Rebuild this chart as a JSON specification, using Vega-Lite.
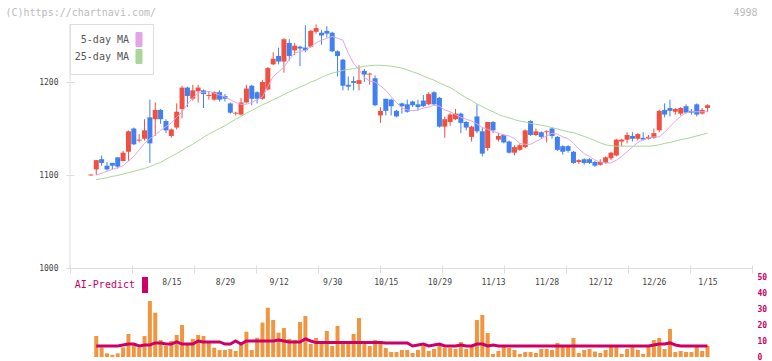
{
"$schema":"https://vega.github.io/schema/vega-lite/v6.json",
"width":682,"height":333,
"autosize":{"type":"none"},
"padding":{"left":70,"top":24,"right":20,"bottom":4},
"background":"#ffffff",
"config":{"view":{"stroke":null},"axis":{"grid":false},"scale":{"continuousPadding":0}},
"data":{"values":[
{"i":0,"o":1099.5,"h":1100.5,"l":1099.5,"c":1100.5,"m5":null,"m25":null,"v":null,"a":null},
{"i":1,"o":1106,"h":1116,"l":1100,"c":1116,"m5":1100,"m25":1095,"v":13.1,"a":6.9},
{"i":2,"o":1117,"h":1121,"l":1110,"c":1113,"m5":1102,"m25":1096,"v":6,"a":6.9},
{"i":3,"o":1110,"h":1114,"l":1105,"c":1106,"m5":1104,"m25":1097,"v":2.3,"a":6.9},
{"i":4,"o":1113,"h":1113,"l":1106,"c":1110,"m5":1106,"m25":1098.5,"v":1.3,"a":6.9},
{"i":5,"o":1119,"h":1119,"l":1107,"c":1109,"m5":1108,"m25":1099.5,"v":2.3,"a":6.9},
{"i":6,"o":1115,"h":1126,"l":1115,"c":1124,"m5":1110,"m25":1101,"v":6,"a":7.5},
{"i":7,"o":1125,"h":1148,"l":1115,"c":1147,"m5":1115,"m25":1102.5,"v":14.4,"a":8.1},
{"i":8,"o":1150,"h":1151,"l":1132,"c":1133,"m5":1120,"m25":1104,"v":8.5,"a":8.1},
{"i":9,"o":1137,"h":1144,"l":1135,"c":1138,"m5":1127,"m25":1105.5,"v":6,"a":6.9},
{"i":10,"o":1139,"h":1160,"l":1137,"c":1148,"m5":1134,"m25":1107,"v":13.1,"a":7.5},
{"i":11,"o":1162,"h":1181,"l":1113,"c":1134,"m5":1139,"m25":1109,"v":35,"a":7.5},
{"i":12,"o":1160,"h":1178,"l":1142,"c":1170,"m5":1143,"m25":1111.5,"v":27.7,"a":8.8},
{"i":13,"o":1170,"h":1171,"l":1155,"c":1160,"m5":1148,"m25":1113.5,"v":10.6,"a":8.8},
{"i":14,"o":1158,"h":1160,"l":1145,"c":1148,"m5":1152,"m25":1117,"v":6.9,"a":8.1},
{"i":15,"o":1142,"h":1150,"l":1140,"c":1149,"m5":1156,"m25":1120,"v":10,"a":8.1},
{"i":16,"o":1151,"h":1177,"l":1149,"c":1168,"m5":1162,"m25":1123,"v":13.8,"a":9.4},
{"i":17,"o":1171,"h":1196,"l":1161,"c":1194,"m5":1168,"m25":1126.5,"v":20,"a":8.1},
{"i":18,"o":1194,"h":1195,"l":1173,"c":1185,"m5":1176,"m25":1130,"v":7.5,"a":8.1},
{"i":19,"o":1182,"h":1197,"l":1180,"c":1191,"m5":1183,"m25":1133,"v":11.3,"a":8.1},
{"i":20,"o":1190,"h":1197,"l":1178,"c":1194,"m5":1188,"m25":1137,"v":13.8,"a":10},
{"i":21,"o":1191,"h":1192,"l":1172,"c":1187,"m5":1189,"m25":1140.5,"v":13.1,"a":9.4},
{"i":22,"o":1185,"h":1190,"l":1181,"c":1186,"m5":1190,"m25":1144,"v":9,"a":9.4},
{"i":23,"o":1181,"h":1190,"l":1180,"c":1189,"m5":1188,"m25":1147,"v":5.8,"a":9.4},
{"i":24,"o":1189,"h":1191,"l":1179,"c":1181,"m5":1186,"m25":1150,"v":4.4,"a":9.4},
{"i":25,"o":1185,"h":1187,"l":1179,"c":1182,"m5":1184,"m25":1153,"v":4.4,"a":8.1},
{"i":26,"o":1177,"h":1178,"l":1166,"c":1167,"m5":1181,"m25":1156.5,"v":5,"a":8.1},
{"i":27,"o":1166,"h":1168,"l":1164,"c":1167,"m5":1178,"m25":1160,"v":3.8,"a":10},
{"i":28,"o":1165,"h":1183,"l":1164,"c":1178,"m5":1176,"m25":1163,"v":8.1,"a":8.1},
{"i":29,"o":1178,"h":1197,"l":1177,"c":1193,"m5":1176,"m25":1166.5,"v":15.8,"a":10},
{"i":30,"o":1196,"h":1197,"l":1175,"c":1182,"m5":1178,"m25":1169.5,"v":4.4,"a":10},
{"i":31,"o":1189,"h":1190,"l":1177,"c":1182,"m5":1181,"m25":1172.5,"v":12,"a":10},
{"i":32,"o":1182,"h":1202,"l":1181,"c":1200,"m5":1184,"m25":1175.5,"v":21.5,"a":10},
{"i":33,"o":1192,"h":1216,"l":1191,"c":1215,"m5":1195,"m25":1178,"v":30.8,"a":10},
{"i":34,"o":1219,"h":1232,"l":1218,"c":1225,"m5":1206,"m25":1181,"v":23.1,"a":10},
{"i":35,"o":1228,"h":1237,"l":1219,"c":1222,"m5":1211,"m25":1183.5,"v":15.2,"a":10.6},
{"i":36,"o":1222,"h":1247,"l":1210,"c":1246,"m5":1216,"m25":1186.5,"v":18.1,"a":10},
{"i":37,"o":1242,"h":1246,"l":1223,"c":1228,"m5":1224,"m25":1189.5,"v":11.3,"a":9.4},
{"i":38,"o":1234,"h":1242,"l":1229,"c":1239,"m5":1231,"m25":1192,"v":10.6,"a":9.4},
{"i":39,"o":1238,"h":1239,"l":1217,"c":1236,"m5":1233,"m25":1194.5,"v":21.9,"a":9.4},
{"i":40,"o":1237,"h":1261,"l":1232,"c":1234,"m5":1234,"m25":1197,"v":25.6,"a":11.3},
{"i":41,"o":1238,"h":1256,"l":1237,"c":1255,"m5":1238,"m25":1200,"v":8.1,"a":10},
{"i":42,"o":1254,"h":1262,"l":1252,"c":1258,"m5":1242,"m25":1202,"v":11.9,"a":9},
{"i":43,"o":1253,"h":1256,"l":1240,"c":1250,"m5":1245,"m25":1205,"v":8.1,"a":9},
{"i":44,"o":1255,"h":1260,"l":1248,"c":1252,"m5":1247,"m25":1207.5,"v":16.3,"a":9},
{"i":45,"o":1253,"h":1254,"l":1232,"c":1233,"m5":1249,"m25":1209.5,"v":6.9,"a":9},
{"i":46,"o":1233,"h":1234,"l":1206,"c":1228,"m5":1247,"m25":1211,"v":19.4,"a":9},
{"i":47,"o":1224,"h":1225,"l":1191,"c":1196,"m5":1245,"m25":1212.5,"v":8.1,"a":9},
{"i":48,"o":1197,"h":1206,"l":1191,"c":1195,"m5":1231,"m25":1213.5,"v":8.1,"a":9},
{"i":49,"o":1201,"h":1206,"l":1191,"c":1199,"m5":1220,"m25":1214.5,"v":14.4,"a":9},
{"i":50,"o":1198,"h":1218,"l":1191,"c":1202,"m5":1213,"m25":1215.5,"v":24.4,"a":9},
{"i":51,"o":1212,"h":1214,"l":1200,"c":1208,"m5":1205,"m25":1217,"v":8.1,"a":9},
{"i":52,"o":1208,"h":1210,"l":1197,"c":1209,"m5":1201,"m25":1217.5,"v":6.9,"a":9},
{"i":53,"o":1204,"h":1207,"l":1174,"c":1175,"m5":1200,"m25":1218,"v":10.6,"a":9},
{"i":54,"o":1164,"h":1173,"l":1156,"c":1169,"m5":1196,"m25":1218,"v":10,"a":9},
{"i":55,"o":1182,"h":1182,"l":1164,"c":1169,"m5":1191,"m25":1217.5,"v":5.6,"a":8.8},
{"i":56,"o":1181,"h":1182,"l":1164,"c":1174,"m5":1184,"m25":1217,"v":3.1,"a":8.8},
{"i":57,"o":1169,"h":1170,"l":1162,"c":1163,"m5":1178,"m25":1216,"v":3.1,"a":8.8},
{"i":58,"o":1177,"h":1178,"l":1166,"c":1174,"m5":1172,"m25":1215,"v":4.4,"a":8.8},
{"i":59,"o":1176,"h":1181,"l":1167,"c":1168,"m5":1170,"m25":1213,"v":4.4,"a":8.8},
{"i":60,"o":1179,"h":1180,"l":1173,"c":1175,"m5":1169,"m25":1211,"v":2.5,"a":6.9},
{"i":61,"o":1176,"h":1181,"l":1169,"c":1173,"m5":1170,"m25":1209,"v":4.4,"a":7.5},
{"i":62,"o":1180,"h":1186,"l":1173,"c":1174,"m5":1172,"m25":1206.5,"v":6.9,"a":8.1},
{"i":63,"o":1176,"h":1189,"l":1175,"c":1187,"m5":1173,"m25":1204,"v":3.8,"a":6.9},
{"i":64,"o":1189,"h":1190,"l":1175,"c":1176,"m5":1175,"m25":1202,"v":5,"a":7.5},
{"i":65,"o":1183,"h":1184,"l":1151,"c":1152,"m5":1174,"m25":1199,"v":8.1,"a":8.1},
{"i":66,"o":1152,"h":1163,"l":1140,"c":1160,"m5":1170,"m25":1196.5,"v":5.6,"a":6.9},
{"i":67,"o":1157,"h":1167,"l":1153,"c":1165,"m5":1168,"m25":1194,"v":5.6,"a":6.9},
{"i":68,"o":1160,"h":1171,"l":1159,"c":1166,"m5":1165,"m25":1190.5,"v":5,"a":6.9},
{"i":69,"o":1166,"h":1167,"l":1145,"c":1156,"m5":1162,"m25":1186.5,"v":9.4,"a":7.5},
{"i":70,"o":1157,"h":1158,"l":1148,"c":1151,"m5":1160,"m25":1183,"v":5,"a":6.9},
{"i":71,"o":1141,"h":1153,"l":1136,"c":1152,"m5":1158,"m25":1180,"v":6.9,"a":6.9},
{"i":72,"o":1163,"h":1176,"l":1145,"c":1147,"m5":1155,"m25":1176.5,"v":23.1,"a":8.1},
{"i":73,"o":1147,"h":1151,"l":1120,"c":1123,"m5":1151,"m25":1173.5,"v":26.3,"a":8.1},
{"i":74,"o":1129,"h":1157,"l":1126,"c":1157,"m5":1149,"m25":1170.5,"v":15,"a":6.9},
{"i":75,"o":1157,"h":1158,"l":1145,"c":1148,"m5":1147,"m25":1168,"v":1.9,"a":7.5},
{"i":76,"o":1138,"h":1145,"l":1136,"c":1142,"m5":1145,"m25":1165,"v":3.8,"a":6.9},
{"i":77,"o":1143,"h":1144,"l":1134,"c":1135,"m5":1143,"m25":1163,"v":6.3,"a":6.9},
{"i":78,"o":1136,"h":1137,"l":1123,"c":1124,"m5":1142,"m25":1161.5,"v":5.6,"a":6.9},
{"i":79,"o":1124,"h":1132,"l":1121,"c":1130,"m5":1139,"m25":1159.5,"v":4.4,"a":6.9},
{"i":80,"o":1127,"h":1134,"l":1126,"c":1132,"m5":1134,"m25":1158,"v":1.9,"a":6.9},
{"i":81,"o":1130,"h":1149,"l":1129,"c":1148,"m5":1133,"m25":1157,"v":3.1,"a":6.9},
{"i":82,"o":1158,"h":1159,"l":1142,"c":1143,"m5":1133,"m25":1155.5,"v":3.1,"a":6.9},
{"i":83,"o":1143,"h":1150,"l":1142,"c":1147,"m5":1136,"m25":1154.5,"v":2.5,"a":6.9},
{"i":84,"o":1146,"h":1147,"l":1139,"c":1141,"m5":1139,"m25":1153.5,"v":5,"a":6.9},
{"i":85,"o":1146,"h":1148,"l":1135,"c":1147,"m5":1142,"m25":1152.5,"v":5,"a":6.9},
{"i":86,"o":1150,"h":1151,"l":1139,"c":1142,"m5":1145,"m25":1151,"v":4.4,"a":6.9},
{"i":87,"o":1141,"h":1142,"l":1126,"c":1127,"m5":1144,"m25":1149.5,"v":8.8,"a":6.9},
{"i":88,"o":1131,"h":1132,"l":1122,"c":1125,"m5":1141,"m25":1148,"v":6.9,"a":6.9},
{"i":89,"o":1131,"h":1132,"l":1124,"c":1126,"m5":1139,"m25":1146.5,"v":6.9,"a":6.9},
{"i":90,"o":1125,"h":1126,"l":1112,"c":1113,"m5":1134,"m25":1145.5,"v":11.9,"a":6.9},
{"i":91,"o":1114,"h":1117,"l":1112,"c":1116,"m5":1128,"m25":1143.5,"v":2.5,"a":6.9},
{"i":92,"o":1117,"h":1118,"l":1111,"c":1113,"m5":1123,"m25":1141.5,"v":4.4,"a":6.9},
{"i":93,"o":1117,"h":1118,"l":1112,"c":1113,"m5":1120,"m25":1139.5,"v":5,"a":6.9},
{"i":94,"o":1114,"h":1115,"l":1109,"c":1110,"m5":1116,"m25":1137,"v":3.4,"a":6.9},
{"i":95,"o":1111,"h":1117,"l":1110,"c":1114,"m5":1114,"m25":1134.5,"v":2.5,"a":6.9},
{"i":96,"o":1113,"h":1120,"l":1112,"c":1119,"m5":1113,"m25":1132.5,"v":4.4,"a":6.9},
{"i":97,"o":1118,"h":1125,"l":1116,"c":1124,"m5":1113,"m25":1131.5,"v":6.9,"a":6.9},
{"i":98,"o":1121,"h":1139,"l":1120,"c":1138,"m5":1116,"m25":1131,"v":6.9,"a":6.9},
{"i":99,"o":1136,"h":1139,"l":1131,"c":1138,"m5":1120,"m25":1131,"v":1.9,"a":6.9},
{"i":100,"o":1138,"h":1146,"l":1134,"c":1143,"m5":1125,"m25":1131,"v":5,"a":6.9},
{"i":101,"o":1142,"h":1146,"l":1136,"c":1139,"m5":1130,"m25":1131,"v":6.9,"a":6.9},
{"i":102,"o":1139,"h":1145,"l":1137,"c":1144,"m5":1135,"m25":1131,"v":4.4,"a":6.9},
{"i":103,"o":1140,"h":1146,"l":1137,"c":1138,"m5":1138,"m25":1131,"v":1.9,"a":6.9},
{"i":104,"o":1139,"h":1143,"l":1138,"c":1141,"m5":1140,"m25":1131,"v":6.9,"a":6.9},
{"i":105,"o":1140,"h":1150,"l":1139,"c":1145,"m5":1141,"m25":1131.5,"v":10.6,"a":7.5},
{"i":106,"o":1148,"h":1170,"l":1146,"c":1169,"m5":1141,"m25":1132.5,"v":11.9,"a":8.1},
{"i":107,"o":1170,"h":1177,"l":1162,"c":1165,"m5":1146,"m25":1134,"v":5,"a":8.1},
{"i":108,"o":1172,"h":1181,"l":1163,"c":1169,"m5":1152,"m25":1135,"v":17.5,"a":8.8},
{"i":109,"o":1168,"h":1172,"l":1165,"c":1171,"m5":1158,"m25":1136.5,"v":3.1,"a":7.5},
{"i":110,"o":1166,"h":1173,"l":1164,"c":1172,"m5":1163,"m25":1138,"v":3.8,"a":6.9},
{"i":111,"o":1174,"h":1176,"l":1166,"c":1167,"m5":1167,"m25":1139,"v":3.1,"a":6.9},
{"i":112,"o":1169,"h":1171,"l":1165,"c":1167,"m5":1168,"m25":1140.5,"v":3.1,"a":6.9},
{"i":113,"o":1176,"h":1177,"l":1163,"c":1165,"m5":1168,"m25":1142,"v":6.9,"a":6.9},
{"i":114,"o":1166,"h":1172,"l":1165,"c":1170,"m5":1168,"m25":1143.5,"v":3.8,"a":6.9},
{"i":115,"o":1172,"h":1176,"l":1168,"c":1175,"m5":1168,"m25":1145,"v":6.9,"a":6.9}
]},
"layer":[
{
"layer":[
{"data":{"values":[{}]},
 "mark":{"type":"rule","color":"#dddddd","strokeWidth":1},
 "encoding":{
  "x":{"datum":-3.9,"type":"quantitative","scale":{"domain":[-3.9,123.3],"nice":false,"zero":false,"padding":0},
   "axis":{"orient":"bottom","offset":-92,"values":[-3.9,7.664,19.227,30.791,42.355,53.918,65.482,77.045,88.609,100.173,111.736,123.3],"domain":false,"labels":false,"ticks":true,"tickSize":8,"tickColor":"#dddddd","tickWidth":1,"grid":false,"title":null}},
  "y":{"datum":1000,"type":"quantitative","scale":{"domain":[904.3,1262.37],"nice":false,"zero":false,"padding":0},
   "axis":{"orient":"left","values":[1000,1100,1200],"format":"d","domain":false,"ticks":true,"tickSize":8,"tickColor":"#dddddd","offset":-4,"labelPadding":8,"labelFont":"DejaVu Sans Mono","labelFontSize":8,"labelColor":"#444444","grid":false,
    "title":"(C)https://chartnavi.com/","titleAngle":0,"titleX":-69,"titleY":-12,"titleAlign":"left","titleBaseline":"middle","titleFont":"DejaVu Sans Mono","titleFontSize":10,"titleFontWeight":"normal","titleColor":"#bbbbbb"}},
  "y2":{"datum":1262.37}
 }},
{"mark":{"type":"rule","strokeWidth":1},
 "encoding":{
  "x":{"field":"i","type":"quantitative","scale":{"domain":[-3.9,123.3],"nice":false,"zero":false,"padding":0},
   "axis":{"orient":"bottom","offset":-89,"domain":true,"domainColor":"#dddddd","domainWidth":1,"ticks":false,"labels":false,"grid":false,"title":null}},
  "y":{"field":"l","type":"quantitative","axis":null},
  "y2":{"field":"h"},
  "color":{"condition":{"test":"datum.c >= datum.o","value":"#f05040"},"value":"#4080f0"}
 }},
{"mark":{"type":"bar","width":5},
 "encoding":{
  "x":{"field":"i","type":"quantitative","scale":{"domain":[-3.9,123.3],"nice":false,"zero":false,"padding":0},
   "axis":{"orient":"bottom","offset":-89,"values":[15,25,35,45,55,65,75,85,95,105,115],
    "labelExpr":"['8/15','8/29','9/12','9/30','10/15','10/29','11/13','11/28','12/12','12/26','1/15'][round((datum.value-15)/10)]",
    "domain":false,"ticks":false,"labelPadding":10,"labelFont":"DejaVu Sans Mono","labelFontSize":8,"labelColor":"#444444","labelFlush":false,"labelOverlap":false,"grid":false,"title":null}},
  "y":{"field":"o","type":"quantitative","axis":null},
  "y2":{"field":"c"},
  "color":{"condition":{"test":"datum.c >= datum.o","value":"#f05040"},"value":"#4080f0"}
 }},
{"mark":{"type":"line","strokeWidth":1},
 "encoding":{
  "x":{"field":"i","type":"quantitative","scale":{"domain":[-3.9,123.3],"nice":false,"zero":false,"padding":0},
   "axis":{"orient":"top","domain":false,"ticks":false,"labels":false,"grid":false,"title":"4998","titleX":687,"titleY":-12,"titleAlign":"right","titleBaseline":"middle","titleColor":"#bbbbbb","titleFont":"DejaVu Sans Mono","titleFontSize":10,"titleFontWeight":"normal"}},
  "y":{"field":"m25","type":"quantitative","axis":null},
  "color":{"datum":"25-day MA","type":"nominal","scale":{"domain":["5-day MA","25-day MA"],"range":["#e2a6e6","#a9d799"]},
   "legend":{"orient":"none","legendX":0,"legendY":0,"title":null,"padding":8,"fillColor":"#ffffff","strokeColor":"#dddddd","direction":"vertical",
    "symbolType":"M-0.43,-1L0.43,-1L0.43,1L-0.43,1Z","symbolSize":196,"symbolStrokeWidth":1,"symbolStrokeColor":"#666666",
    "labelAlign":"right","labelOffset":-17.5,"symbolOffset":53.5,"rowPadding":-2,"labelFont":"DejaVu Sans Mono","labelFontSize":10,"labelColor":"#555555",
    "encode":{"symbols":{"update":{"fill":{"scale":"color","field":"value"},"stroke":{"value":"#666666"},"strokeWidth":{"value":1},"opacity":{"value":1}}}}}}
 }},
{"mark":{"type":"line","strokeWidth":1},
 "encoding":{
  "x":{"field":"i","type":"quantitative","axis":null},
  "y":{"field":"m5","type":"quantitative","axis":null},
  "color":{"datum":"5-day MA","type":"nominal"}
 }}
],
"resolve":{"axis":{"x":"independent","y":"independent"}}
},
{
"layer":[
{"mark":{"type":"bar","width":4,"color":"#f09640"},
 "encoding":{
  "x":{"field":"i","type":"quantitative","scale":{"domain":[-3.9,123.3],"nice":false,"zero":false,"padding":0},"axis":null},
  "y":{"field":"v","type":"quantitative","scale":{"domain":[0,208.125],"nice":false,"zero":true,"padding":0},
   "axis":{"orient":"right","values":[0,10,20,30,40,50],"domain":false,"ticks":false,"grid":false,"labelPadding":5,"labelFont":"DejaVu Sans Mono","labelFontSize":8,"labelFontWeight":"bold","labelColor":"#cc0066","title":null}}
 }},
{"mark":{"type":"line","strokeWidth":3},
 "encoding":{
  "x":{"field":"i","type":"quantitative","axis":null},
  "y":{"field":"a","type":"quantitative","axis":null},
  "stroke":{"datum":"AI-Predict","type":"nominal","scale":{"domain":["AI-Predict"],"range":["#cc0066"]},
   "legend":{"orient":"none","legendX":7,"legendY":253,"title":null,"padding":0,
    "symbolType":"M-0.375,-1L0.375,-1L0.375,1L-0.375,1Z","symbolSize":256,"symbolStrokeWidth":0,
    "labelAlign":"right","labelOffset":-18,"symbolOffset":60,"labelFont":"DejaVu Sans Mono","labelFontSize":10,"labelColor":"#cc0066",
    "encode":{"symbols":{"update":{"fill":{"value":"#cc0066"},"stroke":{"value":"transparent"},"opacity":{"value":1}}}}}}
 }}
],
"resolve":{"axis":{"y":"independent"}}
}
],
"resolve":{"scale":{"y":"independent"},"axis":{"x":"independent","y":"independent"}}
}
